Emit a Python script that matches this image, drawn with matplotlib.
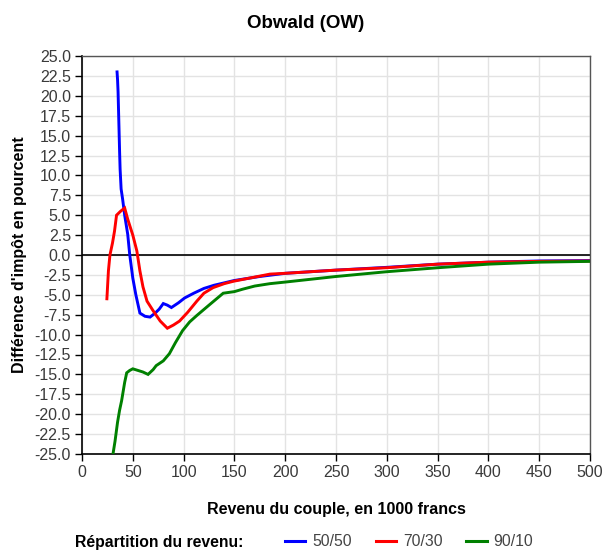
import matplotlib
matplotlib.use("Agg")
import matplotlib.pyplot as plt
from matplotlib.lines import Line2D
import numpy as np

plt.rcParams['font.family'] = ['Liberation Sans', 'DejaVu Sans']

title = "Obwald (OW)"
xlabel = "Revenu du couple, en 1000 francs"
ylabel = "Différence d'impôt en pourcent"
legend_title = "Répartition du revenu:"
series_names = ["50/50", "70/30", "90/10"]
series_colors = ["#0000ff", "#ff0000", "#008000"]

x_5050 = [34.5, 35, 35.5, 36, 36.5, 37, 37.5, 38.5, 40, 42, 45, 47, 50, 53, 57, 62, 67, 72, 76, 80,
          84, 88, 95, 101, 110, 120, 130, 140, 150, 175, 200, 250, 300, 350, 400, 450, 500]
y_5050 = [23, 22, 20.5, 18, 15.5, 13, 10.8, 8.3, 7, 5, 2.6, 0, -2.9, -5, -7.3, -7.7, -7.8, -7.3, -6.8, -6.1,
          -6.3, -6.6, -6.0, -5.4, -4.8, -4.2, -3.8, -3.5, -3.2, -2.7, -2.3, -1.9, -1.55, -1.15, -0.9, -0.75, -0.7]

x_7030 = [24.5, 26, 27.5, 30, 32, 34, 38, 42, 45, 50, 54, 57, 60, 64, 70, 77, 84, 90, 96, 104,
          113, 120, 129, 140, 149, 165, 185, 200, 250, 300, 350, 400, 450, 500]
y_7030 = [-5.5, -2, 0, 1.5, 3, 5, 5.5, 5.9, 4.5, 2.5, 0.5, -2, -4, -5.8, -7, -8.3, -9.2, -8.8, -8.3, -7.2,
          -5.8, -4.8, -4.1, -3.6, -3.3, -2.9, -2.4, -2.3, -1.9, -1.6, -1.15, -0.9, -0.8, -0.75]

x_9010 = [30.5, 32.5, 35, 37, 39, 42, 44, 47, 50, 55, 60, 65, 70, 73, 80, 86, 92, 99, 106, 113,
          125, 139, 150, 158, 170, 185, 200, 250, 300, 350, 400, 450, 500]
y_9010 = [-25, -23.4, -21, -19.5, -18.3, -16, -14.8, -14.5, -14.3, -14.5, -14.7, -15, -14.4, -13.9, -13.3, -12.4, -11, -9.5, -8.4, -7.6,
          -6.3, -4.8, -4.6, -4.3, -3.9, -3.6, -3.4, -2.7, -2.1, -1.6, -1.15, -0.9, -0.8]

xticks = list(range(0, 501, 50))
yticks = [v * 2.5 for v in range(-10, 11)]
ytick_labels = [f"{v:.1f}" for v in yticks]

fig = plt.figure(figsize=(6.14, 5.54), dpi=100)
ax = fig.add_axes([82/614, 1-454/554, 508/614, 398/554])

ax.set_xlim(0, 500)
ax.set_ylim(-25, 25)
ax.set_xticks(xticks)
ax.set_yticks(yticks)
ax.set_yticklabels(ytick_labels)
ax.grid(True, color="#e3e3e3", linewidth=1.0)
ax.set_axisbelow(True)
ax.axhline(0, color="black", linewidth=1.2, zorder=2)

for xs, ys, c in [(x_5050, y_5050, series_colors[0]), (x_7030, y_7030, series_colors[1]), (x_9010, y_9010, series_colors[2])]:
    ax.plot(xs, ys, color=c, linewidth=2.1, zorder=3, solid_joinstyle='miter')

for s in ["top", "right"]:
    ax.spines[s].set_color("#555555")
    ax.spines[s].set_linewidth(1.0)
for s in ["left", "bottom"]:
    ax.spines[s].set_color("black")
    ax.spines[s].set_linewidth(1.2)

ax.tick_params(axis="both", direction="out", length=5, width=1, labelsize=11.5, colors="black", labelcolor="#3a3a3a", pad=3)
ax.set_xlabel(xlabel, fontsize=11.5, fontweight="bold", labelpad=16)
ax.set_ylabel(ylabel, fontsize=11.5, fontweight="bold", labelpad=5)
fig.text(306/614, 1-24/554, title, ha="center", va="center", fontsize=13.5, fontweight="bold")

fig.text(75/614, 1-542/554, legend_title, ha="left", va="center", fontsize=11.3, fontweight="bold")
handles = [Line2D([0], [0], color=c, linewidth=2.2) for c in series_colors]
leg = fig.legend(handles, series_names, loc="center left", bbox_to_anchor=(285/614, 1-542/554), ncol=3,
                 frameon=False, fontsize=11.3, handlelength=1.3, handletextpad=0.45, columnspacing=1.5,
                 borderaxespad=0, borderpad=0)
for t in leg.get_texts():
    t.set_color("#444444")

fig.savefig("out.png", dpi=100)
